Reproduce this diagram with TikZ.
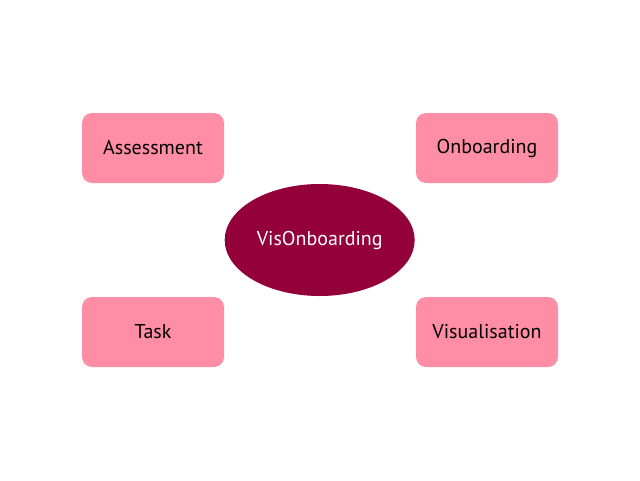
\documentclass[tikz,border=0pt]{standalone}
\usepackage{fontspec}
\setmainfont{PT Sans}
\usetikzlibrary{shapes.geometric}
\definecolor{boxpink}{HTML}{FF8DA6}
\definecolor{hubwine}{HTML}{93003A}
\begin{document}
\begin{tikzpicture}[x=1pt,y=-1pt,
  topic/.style={fill=boxpink,draw=none,rounded corners=10pt,minimum width=142pt,minimum height=70pt,inner sep=0pt,font=\fontsize{20}{24}\selectfont,text=black},
  hub/.style={ellipse,fill=hubwine,draw=none,minimum width=190pt,minimum height=112pt,inner sep=0pt,font=\fontsize{20}{24}\selectfont,text=white}]
\useasboundingbox (0,0) rectangle (640,480);
\node[hub] (centre) at (319.7,240) {VisOnboarding};
\node[topic] (assess) at (153,148) {Assessment};
\node[topic] (onboard) at (487,148) {Onboarding};
\node[topic] (task) at (153,332) {Task};
\node[topic] (vis) at (487,332) {Visualisation};
\end{tikzpicture}
\end{document}
